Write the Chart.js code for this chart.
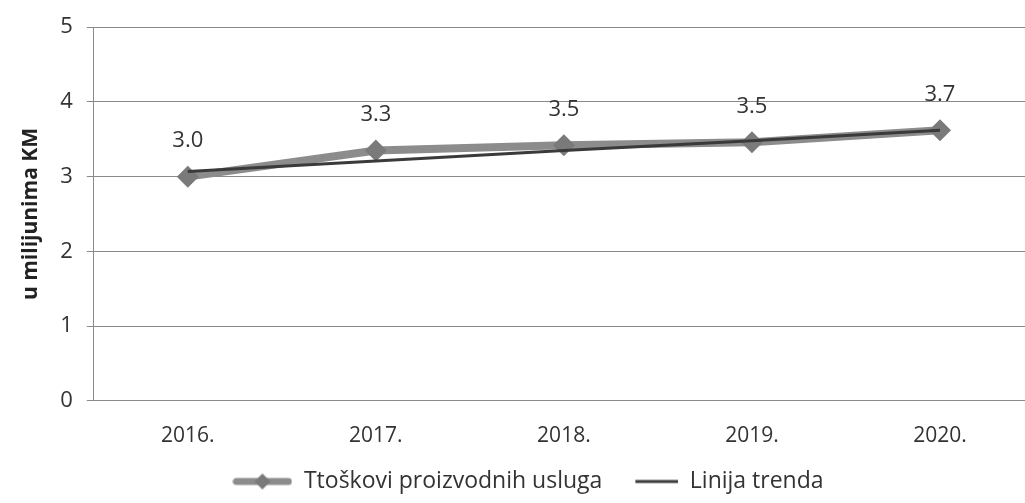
<!DOCTYPE html>
<html>
<head>
<meta charset="utf-8">
<script src="https://cdn.jsdelivr.net/npm/chart.js@4.4.1/dist/chart.umd.min.js"></script>
<style>
  html, body { margin: 0; padding: 0; background: #fff; overflow: hidden; }
  #wrap { position: relative; width: 1045px; height: 503px; }
</style>
</head>
<body>
<div id="wrap"><canvas id="troskoviChart"></canvas></div>
<script>
const years = ['2016.', '2017.', '2018.', '2019.', '2020.'];
const troskovi = [3.0, 3.35, 3.42, 3.46, 3.62];
const trend = [3.07, 3.21, 3.35, 3.48, 3.62];
const valueLabels = ['3.0', '3.3', '3.5', '3.5', '3.7'];
const yTicks = [0, 1, 2, 3, 4, 5];

const FONT = "'Open Sans', 'DejaVu Sans', sans-serif";

// legend markers drawn on small canvases
function seriesMarker() {
    const c = document.createElement('canvas');
    c.width = 60; c.height = 20;
    const g = c.getContext('2d');
    g.strokeStyle = '#8c8c8c';
    g.lineWidth = 7;
    g.lineCap = 'round';
    g.beginPath(); g.moveTo(4, 10); g.lineTo(56, 10); g.stroke();
    g.fillStyle = '#7a7a7a';
    g.beginPath(); g.moveTo(30, 2); g.lineTo(38, 10); g.lineTo(30, 18); g.lineTo(22, 10); g.closePath(); g.fill();
    return c;
}
function trendMarker() {
    const c = document.createElement('canvas');
    c.width = 60; c.height = 20;
    const g = c.getContext('2d');
    g.strokeStyle = '#3a3a3a';
    g.lineWidth = 3;
    g.beginPath(); g.moveTo(17, 10); g.lineTo(60, 10); g.stroke();
    return c;
}

const valueLabelPlugin = {
    id: 'valueLabels',
    afterDatasetsDraw(chart) {
        const meta = chart.getDatasetMeta(0);
        const ctx = chart.ctx;
        ctx.save();
        ctx.font = '22px ' + FONT;
        ctx.fillStyle = '#333';
        ctx.textAlign = 'center';
        ctx.textBaseline = 'middle';
        meta.data.forEach((pt, i) => {
            ctx.fillText(valueLabels[i], pt.x, pt.y - 36);
        });
        ctx.restore();
    }
};

const ctx = document.getElementById('troskoviChart').getContext('2d');
const chart = new Chart(ctx, {
    type: 'line',
    data: {
        labels: years,
        datasets: [{
            label: 'Ttoškovi proizvodnih usluga',
            data: troskovi,
            borderColor: '#8c8c8c',
            borderWidth: 8,
            pointStyle: 'rectRot',
            pointRadius: 11,
            pointBackgroundColor: '#7a7a7a',
            pointBorderWidth: 0,
            tension: 0,
            order: 2
        }, {
            label: 'Linija trenda',
            data: trend,
            borderColor: '#3a3a3a',
            borderWidth: 3,
            pointRadius: 0,
            tension: 0,
            order: 1
        }]
    },
    options: {
        responsive: true,
        maintainAspectRatio: false,
        animation: false,
        layout: { padding: { top: 16, right: 7, left: 18, bottom: 0 } },
        scales: {
            x: {
                offset: true,
                grid: { display: false },
                border: { display: false },
                ticks: { color: '#333', font: { family: FONT, size: 21 }, padding: 15 },
                afterFit: (scale) => { scale.height -= 10; }
            },
            y: {
                min: 0,
                max: 5,
                afterBuildTicks: (axis) => { axis.ticks = yTicks.map(v => ({ value: v })); },
                grid: { color: '#8a8a8a', lineWidth: 1, tickLength: 7 },
                border: { display: true, color: '#8a8a8a' },
                ticks: { color: '#333', font: { family: FONT, size: 22 }, padding: 14 },
                title: {
                    display: true,
                    text: 'u milijunima KM',
                    color: '#222',
                    font: { family: FONT, size: 21, weight: 'bold' },
                    padding: { top: 0, bottom: 3 }
                }
            }
        },
        plugins: {
            legend: {
                position: 'bottom',
                labels: {
                    usePointStyle: true,
                    pointStyleWidth: 60,
                    color: '#333',
                    font: { family: FONT, size: 23 },
                    padding: 16,
                    generateLabels: (chart) => [
                        { text: chart.data.datasets[0].label, pointStyle: seriesMarker(), fontColor: '#333', datasetIndex: 0, lineWidth: 0, strokeStyle: 'transparent', fillStyle: 'transparent' },
                        { text: chart.data.datasets[1].label, pointStyle: trendMarker(), fontColor: '#333', datasetIndex: 1, lineWidth: 0, strokeStyle: 'transparent', fillStyle: 'transparent' }
                    ]
                }
            },
            tooltip: { enabled: false }
        }
    },
    plugins: [valueLabelPlugin]
});
</script>
</body>
</html>
